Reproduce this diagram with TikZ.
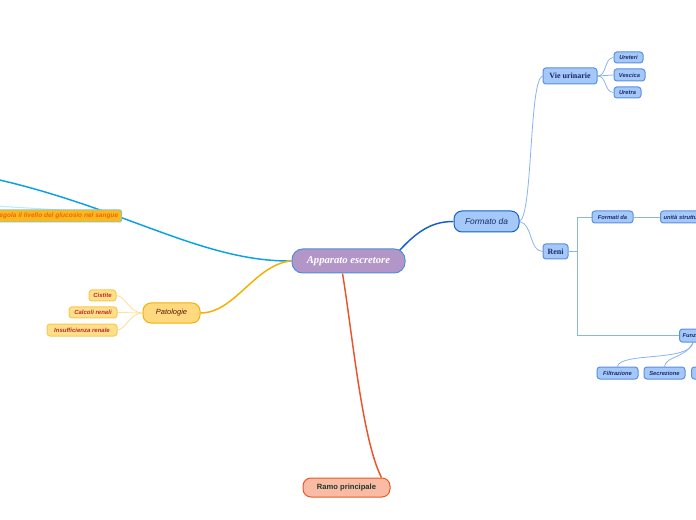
\documentclass[tikz,border=0pt]{standalone}
\usepackage{fontspec}
\setmainfont{Liberation Serif}
\setsansfont{Liberation Sans}
\usetikzlibrary{calc}
\pgfdeclarelayer{bg}
\pgfsetlayers{bg,main}
\newdimen\pxu \pxu=0.75pt
\definecolor{cfill}{HTML}{B396C8}
\definecolor{cbord}{HTML}{4A90D9}
\definecolor{bfill}{HTML}{A4C8F8}
\definecolor{bbord}{HTML}{5B8FE0}
\definecolor{btext}{HTML}{1A2A6C}
\definecolor{dblue}{HTML}{1660C8}
\definecolor{lblue}{HTML}{8AB4F0}
\definecolor{cyanl}{HTML}{0AA0E6}
\definecolor{ofill}{HTML}{FFB81C}
\definecolor{obord}{HTML}{8CC8B8}
\definecolor{otext}{HTML}{E86A10}
\definecolor{pfill}{HTML}{FFD97F}
\definecolor{pbord}{HTML}{F5B000}
\definecolor{ptext}{HTML}{5A1A00}
\definecolor{yfill}{HTML}{FFE08A}
\definecolor{ybord}{HTML}{F8C850}
\definecolor{ytext}{HTML}{C0262A}
\definecolor{yline}{HTML}{FFE2A0}
\definecolor{rfill}{HTML}{F9BBA3}
\definecolor{rbord}{HTML}{E85A28}
\definecolor{rtext}{HTML}{1E3A2E}
\definecolor{rline}{HTML}{E8552A}
\tikzset{
  box/.style={draw, rounded corners=2.2pt, inner sep=0, line width=0.75pt},
  centralbox/.style={box, fill=cfill, draw=cbord, rounded corners=8pt, text=white,
     font=\fontsize{8}{9}\selectfont\bfseries\itshape},
  mainblue/.style={box, fill=bfill, draw=dblue, rounded corners=6pt, text=btext,
     font=\sffamily\fontsize{6.3}{7}\selectfont\itshape},
  serifblue/.style={box, fill=bfill, draw=bbord, text=btext,
     font=\fontsize{6}{7}\selectfont\bfseries},
  smallblue/.style={box, fill=bfill, draw=bbord, text=btext,
     font=\sffamily\fontsize{4.3}{5}\selectfont\bfseries\itshape},
  orangebox/.style={box, fill=ofill, draw=obord, rounded corners=1pt, text=otext,
     font=\sffamily\fontsize{4.9}{5.5}\selectfont\bfseries\itshape},
  patobox/.style={box, fill=pfill, draw=pbord, rounded corners=6pt, text=ptext,
     font=\sffamily\fontsize{5.6}{7}\selectfont\itshape},
  yelbox/.style={box, fill=yfill, draw=ybord, text=ytext,
     font=\sffamily\fontsize{4.5}{5}\selectfont\bfseries\itshape},
  ramobox/.style={box, fill=rfill, draw=rbord, rounded corners=6pt, text=rtext,
     font=\sffamily\fontsize{5.7}{7}\selectfont\bfseries},
  thinblue/.style={draw=lblue, line width=0.6pt},
}
\begin{document}
\begin{tikzpicture}[x=0.75pt,y=-0.75pt]
\useasboundingbox (0,0) rectangle (696,520);
\clip (0,0) rectangle (696,520);
% nodes
\node[centralbox, minimum width=113\pxu, minimum height=24\pxu] (c) at (348.5,261) {Apparato escretore};
\node[mainblue, minimum width=65\pxu, minimum height=21\pxu] (fd) at (486.5,221.5) {Formato da};
\node[serifblue, minimum width=54\pxu, minimum height=16\pxu] (vu) at (570,76) {Vie urinarie};
\node[smallblue, minimum width=29\pxu, minimum height=11\pxu] (ur) at (628.5,57.5) {Ureteri};
\node[smallblue, minimum width=31\pxu, minimum height=12\pxu] (ve) at (629.5,75) {Vescica};
\node[smallblue, minimum width=27\pxu, minimum height=11\pxu] (ut) at (627.5,92.5) {Uretra};
\node[serifblue, minimum width=25\pxu, minimum height=15\pxu] (re) at (555.5,251.5) {Reni};
\node[smallblue, minimum width=41\pxu, minimum height=12\pxu] (fdi) at (612.5,217) {Formati da};
\node[smallblue, minimum height=12\pxu, anchor=west, text width=80\pxu, align=left] (us) at (660,217) {\hspace*{2.3pt}unità strutturali};
\node[smallblue, minimum height=13\pxu, anchor=west, text width=50\pxu, align=left] (fu) at (679,335.5) {\hspace*{2.3pt}Funzioni};
\node[smallblue, minimum width=41\pxu, minimum height=12\pxu] (fi) at (617.5,373) {Filtrazione};
\node[smallblue, minimum width=41\pxu, minimum height=12\pxu] (se) at (664.5,373) {Secrezione};
\node[smallblue, minimum width=40\pxu, minimum height=12\pxu, anchor=west] (ri) at (691,373) {};
\node[orangebox, minimum height=12\pxu, anchor=east, inner xsep=2.5pt] (or) at (122,216) {regola il livello del glucosio nel sangue};
\node[patobox, minimum width=57\pxu, minimum height=20\pxu] (pa) at (171.5,313) {Patologie};
\node[yelbox, minimum width=27\pxu, minimum height=11\pxu] (ci) at (102.5,295.5) {Cistite};
\node[yelbox, minimum width=48\pxu, minimum height=11\pxu] (ca) at (93,312.5) {Calcoli renali};
\node[yelbox, minimum width=70\pxu, minimum height=12\pxu] (in) at (82,330) {Insufficienza renale};
\node[ramobox, minimum width=87\pxu, minimum height=19\pxu] (ra) at (346.5,487.5) {Ramo principale};
\coordinate (offcy) at (-40,172);
\coordinate (offl) at (-20,205);
\coordinate (hub) at (577,251.5);
% connectors
\begin{pgfonlayer}{bg}
\fill[white] (0,0) rectangle (696,520);
\draw[cyanl, line width=1.1pt] (c.west) .. controls (195,262) and (110,198) .. (offcy);
\draw[cyan!25, line width=0.8pt] (offl) -- (60,210);
\draw[dblue, line width=1.1pt] ($(c.north east)+(-6,2)$) .. controls (420,228) and (435,221.5) .. (fd.west);
\draw[pbord, line width=1.1pt] (c.west) .. controls (255,264) and (235,313) .. (pa.east);
\draw[rline, line width=1.1pt] ($(c.south)+(-6,0)$) .. controls (352,330) and (362,440) .. ($(ra.north east)+(-9,0)$);
\draw[thinblue] (fd.east) .. controls (533,215) and (529,80) .. (vu.west);
\draw[thinblue] (fd.east) .. controls (533,224) and (529,251) .. (re.west);
\draw[thinblue] (vu.east) .. controls (607,76) and (604,58) .. (ur.west);
\draw[thinblue] (vu.east) -- (ve.west);
\draw[thinblue] (vu.east) .. controls (607,76) and (604,92) .. (ut.west);
\draw[thinblue] (re.east) -- (hub);
\draw[thinblue] (hub) |- (fdi.west);
\draw[thinblue] (hub) |- (fu.west);
\draw[thinblue] (fdi.east) -- (us.west);
\draw[thinblue] ($(fu.south west)+(14,0)$) .. controls (690,362) and (620,352) .. (fi.north);
\draw[thinblue] ($(fu.south west)+(14,0)$) .. controls (686,358) and (666,356) .. (se.north);
\draw[yline, line width=0.7pt] (pa.west) .. controls (130,313) and (125,296) .. (ci.east);
\draw[yline, line width=0.7pt] (pa.west) -- (ca.east);
\draw[yline, line width=0.7pt] (pa.west) .. controls (130,313) and (125,330) .. (in.east);
\end{pgfonlayer}
\end{tikzpicture}
\end{document}
